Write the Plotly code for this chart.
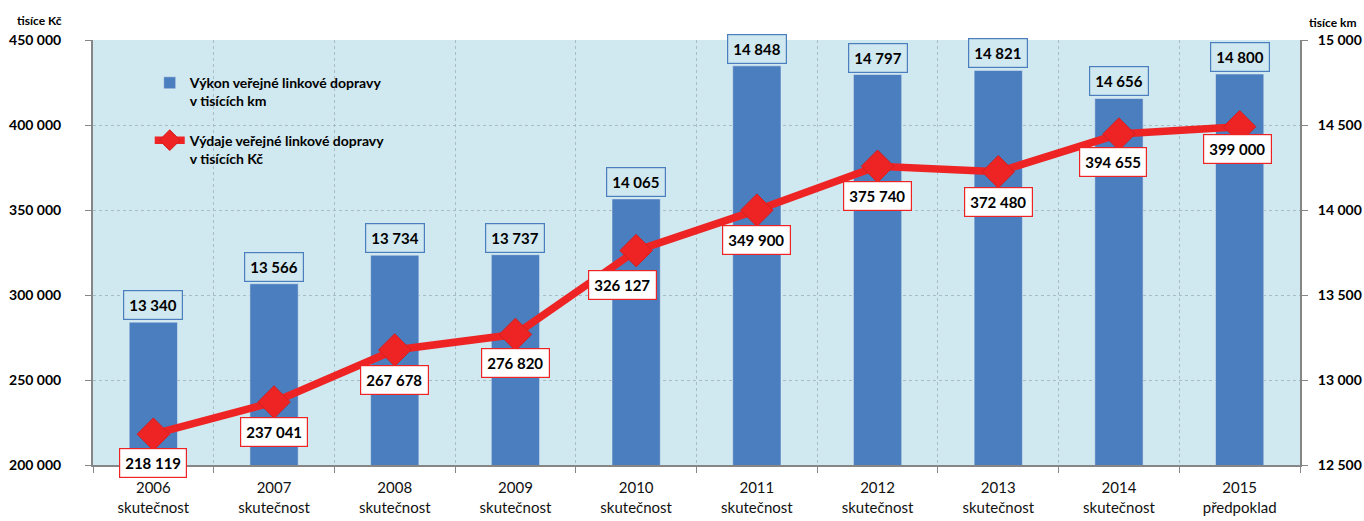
import plotly.graph_objects as go

years = ["2006", "2007", "2008", "2009", "2010", "2011", "2012", "2013", "2014", "2015"]
status = ["skutečnost"] * 9 + ["předpoklad"]
km_values = [13340, 13566, 13734, 13737, 14065, 14848, 14797, 14821, 14656, 14800]
kc_values = [218119, 237041, 267678, 276820, 326127, 349900, 375740, 372480, 394655, 399000]
# label offsets for the red boxes (px, relative to marker)
kc_label_dx = [0, 0, 0, 0, -14, 0, 0, 0, -6, -2]
kc_label_dy = [29, 30, 30, 29, 34, 30, 30, 30, 28, 22]

left_ticks = [200000, 250000, 300000, 350000, 400000, 450000]
right_ticks = [12500, 13000, 13500, 14000, 14500, 15000]

cats = [f"{y}<br>{s}" for y, s in zip(years, status)]

def fmt(v):
    return f"{v:,}".replace(",", " ")

BLUE = "#4A7EBF"
RED = "#EE2324"
BG = "#D0E8EF"
FONT = "Lato, 'Open Sans', sans-serif"

fig = go.Figure()
fig.add_trace(go.Bar(
    x=cats, y=km_values, yaxis="y", width=0.4, marker_color=BLUE,
    name="Výkon veřejné linkové dopravy<br>v tisících km", legendgroup="a",
))
fig.add_trace(go.Scatter(
    x=cats, y=kc_values, yaxis="y2", mode="lines+markers",
    line=dict(color=RED, width=7.5),
    marker=dict(symbol="diamond", size=25, color=RED, line=dict(color="#D21F1F", width=1)),
    name="Výdaje veřejné linkové dopravy<br>v tisících Kč", legendgroup="b",
))

annotations = []
for c, v in zip(cats, km_values):
    annotations.append(dict(
        x=c, y=v, xref="x", yref="y", text=f"<b>{fmt(v)}</b>", showarrow=False,
        yshift=17, font=dict(family=FONT, size=15, color="black"),
        bordercolor=BLUE, borderwidth=1.2, borderpad=5, bgcolor=BG,
    ))
for c, v, dx, dy in zip(cats, kc_values, kc_label_dx, kc_label_dy):
    annotations.append(dict(
        x=c, y=v, xref="x", yref="y2", text=f"<b>{fmt(v)}</b>", showarrow=False,
        xshift=dx, yshift=-dy, font=dict(family=FONT, size=15, color="black"),
        bordercolor=RED, borderwidth=1.2, borderpad=5, bgcolor="white",
    ))
annotations.append(dict(x=-0.044, y=1.047, xref="paper", yref="paper", text="<b>tisíce Kč</b>",
                        showarrow=False, xanchor="center", yanchor="middle",
                        font=dict(family=FONT, size=12, color="black")))
annotations.append(dict(x=1.027, y=1.042, xref="paper", yref="paper", text="<b>tisíce km</b>",
                        showarrow=False, xanchor="center", yanchor="middle",
                        font=dict(family=FONT, size=12, color="black")))

grid = dict(showgrid=True, gridcolor="#A9BCC4", griddash="dot", gridwidth=1)

fig.update_layout(
    width=1364, height=521,
    margin=dict(l=93, r=64, t=40, b=56, autoexpand=False),
    plot_bgcolor=BG, paper_bgcolor="white",
    separators=", ",
    bargap=0.6,
    font=dict(family=FONT, color="black"),
    annotations=annotations,
    xaxis=dict(
        type="category", range=[-0.5, len(cats) - 0.5], tickson="boundaries",
        ticks="outside", ticklen=6,
        tickcolor="#868686", showline=True, linecolor="#868686", linewidth=2,
        tickfont=dict(size=15, color="#111"), ticklabelstandoff=8,
        automargin=False, **grid,
    ),
    yaxis=dict(
        side="right", range=[12500, 15000], tickvals=right_ticks,
        ticktext=[fmt(t) for t in right_ticks],
        ticks="outside", ticklen=6, tickcolor="#868686",
        showline=True, linecolor="#868686", linewidth=2,
        tickfont=dict(size=14, color="black", weight="bold"),
        ticklabelstandoff=7, automargin=False, **grid, zeroline=False,
    ),
    yaxis2=dict(
        side="left", overlaying="y", range=[200000, 450000], tickvals=left_ticks,
        ticktext=[fmt(t) for t in left_ticks],
        ticks="outside", ticklen=6, tickcolor="#868686",
        showline=True, linecolor="#868686", linewidth=2,
        tickfont=dict(size=14, color="black", weight="bold"),
        ticklabelstandoff=21, automargin=False, showgrid=False, zeroline=False,
    ),
    legend=dict(
        x=0.047, y=0.936, xanchor="left", yanchor="top", bgcolor="rgba(0,0,0,0)",
        font=dict(family=FONT, size=14, color="black", weight="bold"),
        tracegroupgap=18, valign="top", itemwidth=30,
    ),
    showlegend=True,
)

fig.write_html(
    "out.html",
    config={"displayModeBar": False},
    post_script="document.body.style.margin='0';document.body.style.overflow='hidden';",
)
